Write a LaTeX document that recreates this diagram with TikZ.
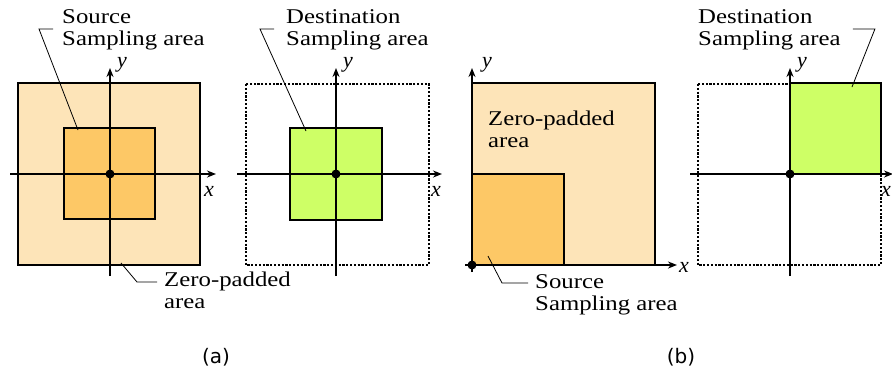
\documentclass[tikz,border=0pt]{standalone}
\usepackage{fontspec}
\setmainfont{Liberation Serif}
\newfontfamily\capfont{DejaVu Sans}
\usetikzlibrary{positioning,arrows.meta}
\definecolor{padcol}{RGB}{253,228,184}
\definecolor{srccol}{RGB}{253,200,102}
\definecolor{dstcol}{RGB}{206,255,102}
\tikzset{
    area label/.style={align=left, anchor=north west, inner sep=0pt,
        xscale=1.18, transform shape, font=\fontsize{21}{22}\selectfont},
    axis/.style={line width=1.5pt, -{Stealth[length=9pt,width=7pt]}},
    frame/.style={line width=1.5pt},
    dotframe/.style={line width=1.4pt, dash pattern=on 2.2pt off 1.6pt},
    leader/.style={line width=0.8pt},
    axis label/.style={inner sep=0pt, font=\fontsize{22}{22}\selectfont\itshape},
    sub caption/.style={inner sep=0pt, font=\fontsize{20}{20}\selectfont\capfont}
}

\begin{document}
\begin{tikzpicture}[x=1pt,y=-1pt]
\useasboundingbox (0,0) rectangle (892,373);

\coordinate (oA) at (110,174);
\coordinate (oB) at (336,174);
\coordinate (oC) at (472,265);
\coordinate (oD) at (790,174);

\fill[padcol] (18,83) rectangle (200,265);
\fill[srccol] (64,128) rectangle (155,219);
\draw[frame] (18,83) rectangle (200,265);
\draw[frame] (64,128) rectangle (155,219);
\draw[axis] (10,174) -- (216,174);
\draw[axis] (110,276) -- (110,68);
\fill (oA) circle (4.5pt);
\node[axis label] (yA) at (122,65) {y};
\node[axis label] (xA) at (209,191) {x};

\draw[dotframe] (246,84) rectangle (429,265);
\fill[dstcol] (290,128) rectangle (382,220);
\draw[frame] (290,128) rectangle (382,220);
\draw[axis] (237,174) -- (442,174);
\draw[axis] (336,276) -- (336,68);
\fill (oB) circle (4.5pt);
\node[axis label] (yB) at (348,65) {y};
\node[axis label] (xB) at (436,191) {x};

\fill[padcol] (472,83) rectangle (655,265);
\fill[srccol] (472,174) rectangle (564,265);
\draw[frame] (472,83) rectangle (655,265);
\draw[frame] (472,174) rectangle (564,265);
\draw[axis] (465,265) -- (677,265);
\draw[axis] (472,272) -- (472,68);
\fill (oC) circle (4.5pt);
\node[axis label] (yC) at (487,65) {y};
\node[axis label] (xC) at (684,267) {x};

\draw[dotframe] (698,84) rectangle (881,265);
\fill[dstcol] (790,83) rectangle (881,174);
\draw[frame] (790,83) rectangle (881,174);
\draw[axis] (690,174) -- (893,174);
\draw[axis] (790,276) -- (790,68);
\fill (oD) circle (4.5pt);
\node[axis label] (yD) at (802,65) {y};
\node[axis label] (xD) at (886,191) {x};

\node[area label] (srcA) at (62,9) {Source\\Sampling area};
\node[area label] (dstA) at (286,9) {Destination\\Sampling area};
\node[area label] (padA) at (164,272) {Zero-padded\\area};
\node[area label] (padB) at (488,111) {Zero-padded\\area};
\node[area label] (srcB) at (535,274) {Source\\Sampling area};
\node[area label] (dstB) at (698,9) {Destination\\Sampling area};

\coordinate (srcAend) at (78,130);
\coordinate (dstAend) at (306,131);
\coordinate (padAend) at (121,263);
\coordinate (srcBend) at (488,256);
\coordinate (dstBend) at (852,87);

\draw[leader] ([shift={(-9,20)}]srcA.north west) -- ++(-14,0) -- (srcAend);
\draw[leader] ([shift={(-12,20)}]dstA.north west) -- ++(-14,0) -- (dstAend);
\draw[leader] ([shift={(-7,10)}]padA.north west) -- ++(-20,0) -- (padAend);
\draw[leader] ([shift={(-7,9)}]srcB.north west) -- ++(-26,0) -- (srcBend);
\draw[leader] ([shift={(12,20)}]dstB.north east) -- ++(22,0) -- (dstBend);

\node[sub caption] (capA) at (216,357) {(a)};
\node[sub caption] (capB) at (681,357) {(b)};
\end{tikzpicture}
\end{document}
